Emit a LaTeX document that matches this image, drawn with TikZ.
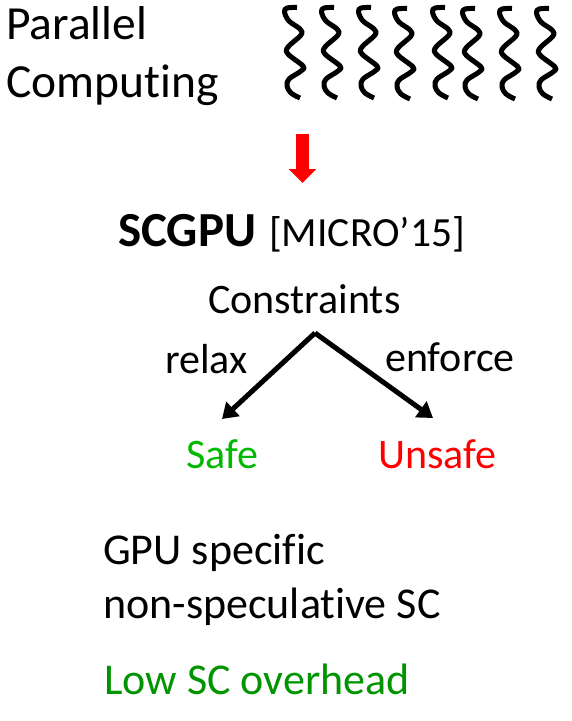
\documentclass[tikz,border=0pt]{standalone}
\usepackage{fontspec}
\setmainfont[Ligatures=NoCommon]{Carlito}
\usetikzlibrary{positioning, arrows.meta}
\definecolor{safegreen}{RGB}{0,185,0}
\definecolor{lowgreen}{RGB}{0,148,0}
\tikzset{
   lbl/.style={anchor=base west, inner sep=0pt, font=\fontsize{47.5}{47.5}\selectfont},
   sublbl/.style={anchor=base west, inner sep=0pt, font=\fontsize{42}{42}\selectfont},
   lowlbl/.style={anchor=base west, inner sep=0pt, font=\fontsize{44}{44}\selectfont},
   branch/.style={line width=5pt, -{Triangle[length=15pt,width=19pt]}},
   squiggle/.pic={\draw[black, line width=5pt, line join=round]
      plot[smooth, tension=0.6] coordinates {(16,8.5) (6,9) (3.5,13) (8,22) (19,30)
      (20,36) (7,48) (7,55) (22,67) (20,72) (8,80) (6,87) (10,94) (19,99)};}
}
\begin{document}
\begin{tikzpicture}[x=1pt,y=-1pt]
\useasboundingbox (0,0) rectangle (571,721);
\node[lbl] (parallel) at (6,39) {Parallel};
\node[lbl] (computing) at (6,97) {Computing};
\foreach \xs/\ys in {0/0,37/0,74/0,110/1,148/0,178/1,215/1,252/1}
   \pic at (281+\xs,-1+\ys) {squiggle};
\coordinate (redtop) at (302.5,134);
\coordinate (redtip) at (302.5,183);
\draw[red, line width=13.6pt, -{Triangle[length=14pt,width=27pt]}] (redtop) -- (redtip);
\node[lbl, font=\fontsize{49}{49}\selectfont\bfseries] (scgpu) at (118,246) {SCGPU};
\node[sublbl, font=\fontsize{41.5}{41.5}\selectfont] (micro) at (269,246) {[MICRO’15]};
\node[sublbl] (constraints) at (208,313) {Constraints};
\node[sublbl] (relax) at (165,373) {relax};
\node[sublbl] (enforce) at (385,371) {enforce};
\coordinate (apex) at (315,333);
\coordinate (safetip) at (222,419);
\coordinate (unsafetip) at (433,418);
\draw[branch] (apex) -- (safetip);
\draw[branch] (apex) -- (unsafetip);
\node[sublbl, safegreen] (safe) at (186,468) {Safe};
\node[sublbl, red] (unsafe) at (378,468) {Unsafe};
\node[lowlbl] (gpuspec) at (103,564.5) {GPU specific};
\node[lowlbl] (nonspec) at (103,618) {non-speculative SC};
\node[lowlbl, lowgreen] (overhead) at (104,694.5) {Low SC overhead};
\end{tikzpicture}
\end{document}
